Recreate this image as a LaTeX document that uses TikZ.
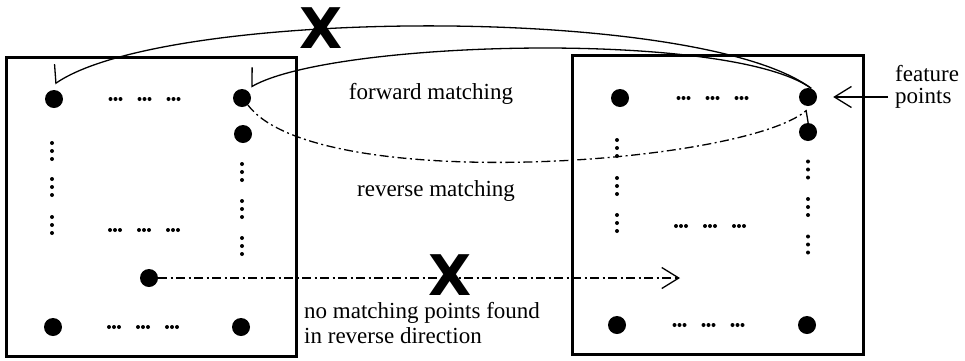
\documentclass[tikz,border=0pt]{standalone}
\usepackage{fontspec}
\setmainfont{Liberation Serif}
\newfontfamily\markfont{DejaVu Sans}
\usetikzlibrary{arrows.meta}

\tikzset{
  frame/.style={draw, line width=3pt, inner sep=0pt, outer sep=0pt},
  fpt/.style={circle, fill, inner sep=0pt, minimum size=18pt},
  link/.style={line width=1.3pt},
  dashdot/.style={dash pattern=on 9pt off 3.5pt on 2pt off 3.5pt},
  harp/.tip={Straight Barb[harpoon, swap, angle=120:19pt, line width=1.3pt]},
  open/.tip={Straight Barb[length=17pt, width=21pt, line width=1.3pt]},
  lbl/.style={inner sep=0pt, font=\fontsize{23}{25}\selectfont},
  cross/.style={inner sep=0pt, font=\markfont\bfseries\fontsize{56}{56}\selectfont},
  dotrow/.pic={\foreach \dx in {-34,-29,-24,-5,0,5,24,29,34}
                 \fill (\dx,0) circle (2);},
  dotcol/.pic={\foreach \dy in {-8,0,8}
                 \fill (0,\dy) circle (2);}
}

\begin{document}
\begin{tikzpicture}[x=1pt, y=-1pt]
\useasboundingbox (0,0) rectangle (965,360);

% the two image frames
\node[frame, minimum width=290pt, minimum height=299pt] (imgL) at (151,206.5) {};
\node[frame, minimum width=290.6pt, minimum height=298.7pt] (imgR) at (718,204.7) {};

% feature points, left image
\node[fpt] (A1) at (54,99) {};
\node[fpt] (A2) at (242,98) {};
\node[fpt] (A3) at (243,134) {};
\node[fpt] (A4) at (149,278) {};
\node[fpt] (A5) at (53,327) {};
\node[fpt] (A6) at (241,327) {};

% feature points, right image
\node[fpt] (B1) at (620,98) {};
\node[fpt] (B2) at (808,97) {};
\node[fpt] (B3) at (808,132) {};
\node[fpt] (B4) at (617,325) {};
\node[fpt] (B5) at (807,325) {};

% ellipsis rows and columns
\pic at (144.5,99) {dotrow};
\pic at (144,230) {dotrow};
\pic at (143,327) {dotrow};
\pic at (712.5,98) {dotrow};
\pic at (710,226) {dotrow};
\pic at (708.5,325) {dotrow};

\foreach \y in {151,187,225} \pic at (52,\y) {dotcol};
\foreach \y in {172,209,246} \pic at (242,\y) {dotcol};
\foreach \y in {148,186,223} \pic at (617,\y) {dotcol};
\foreach \y in {169.5,207,244.5} \pic at (808,\y) {dotcol};

% matching connectors
\draw[link, -{harp}] (B2.70) .. controls (700,5) and (168,7) .. ([shift={(1,-6)}]A1.north);
\draw[link, -{harp}] (B2.70) .. controls (730,30) and (334,40) .. ([shift={(9,-11)}]A2.center);
\draw[link, dashdot, -{harp}] (A2.-50) .. controls (316,195) and (740,165) .. ([shift={(-1,13)}]B2.center);

\coordinate (miss) at (680,278);
\draw[link, dashdot, -{open}] (A4) -- (miss);

\coordinate (fptail) at (888,97);
\draw[link, -{open}, shorten >=16pt] (fptail) -- (B2);

% rejection marks
\node[cross] (x1) at (321,28) {X};
\node[cross] (x2) at (450,275) {X};

% labels (base of a two-line node is its last line)
\node[lbl, anchor=base] (fwd) at (431,99) {forward matching};
\node[lbl, anchor=base] (rev) at (436,196) {reverse matching};
\node[lbl, anchor=base west, align=left] (nomatch) at (304,343) {no matching points found\\in reverse direction};
\node[lbl, anchor=base west, align=left, font=\fontsize{23}{22}\selectfont] (fplbl) at (895,103) {feature\\points};
\end{tikzpicture}
\end{document}
